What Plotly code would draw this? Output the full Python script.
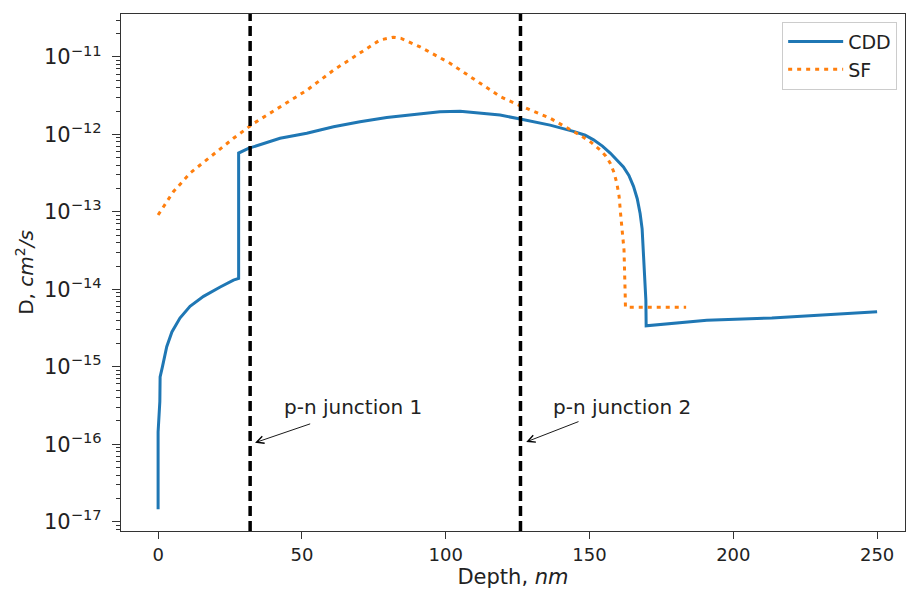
import plotly.graph_objects as go

# CDD profile (depth nm, D cm^2/s)
cdd_x = [0, 0, 0.6, 0.7, 1.5, 3.0, 4.8, 7.6, 11.1, 15.8, 21.6, 26.2, 28.0, 28.0, 31.4, 42.4, 51.7,
         61.0, 70.2, 79.5, 89.9, 98, 105, 113.1, 118.9, 125.9, 136.3, 144.4, 148.5, 151.4, 154.5,
         157.2, 159.6, 161.8, 163.7, 165.3, 166.6, 167.6, 168.3, 168.7, 169.3, 169.6, 169.7,
         176.3, 190.8, 213.4, 230.2, 250]
cdd_log = [-16.84, -15.84, -15.45, -15.13, -15.0, -14.74, -14.55, -14.37, -14.22, -14.09,
           -13.97, -13.88, -13.86, -12.24, -12.18, -12.05, -11.985, -11.90, -11.835, -11.78,
           -11.74, -11.706, -11.70, -11.73, -11.75, -11.80, -11.88, -11.96, -12.01, -12.07,
           -12.15, -12.24, -12.33, -12.42, -12.53, -12.67, -12.83, -13.02, -13.22, -13.49,
           -13.85, -14.14, -14.47, -14.45, -14.40, -14.37, -14.33, -14.29]
cdd_y = [10 ** v for v in cdd_log]

# SF profile
sf_x = [0, 5.3, 11.1, 18.1, 26.2, 33.1, 42.4, 51.7, 61.0, 70.2, 77.2, 81.8, 84.5, 91.1, 101.5,
        112, 118.9, 125.9, 136.3, 146.7, 150.5, 153.7, 155.7, 157.2, 158.5, 159.5, 160.3, 160.8,
        161.5, 162, 162.4, 162.5, 183.6]
sf_log = [-13.04, -12.74, -12.50, -12.29, -12.05, -11.86, -11.64, -11.43, -11.17, -10.95,
          -10.78, -10.745, -10.76, -10.87, -11.08, -11.34, -11.51, -11.63, -11.79, -12.01,
          -12.10, -12.20, -12.28, -12.37, -12.49, -12.63, -12.80, -13.02, -13.25, -13.49,
          -14.05, -14.23, -14.23]
sf_y = [10 ** v for v in sf_log]

junctions = [32, 126]
junction_labels = ["p-n junction 1", "p-n junction 2"]
# arrow tip (x, log10 y), tail (x, log10 y), text anchor (x, log10 y)
arrow_tips = [(33.7, -15.98), (128.0, -15.97)]
arrow_tails = [(53.4, -15.73), (146.7, -15.70)]
text_pos = [(43.0, -15.515), (136.6, -15.515)]

x_ticks = [0, 50, 100, 150, 200, 250]
y_major_exp = list(range(-17, -10))
y_major_ticks = [10.0 ** e for e in y_major_exp]
y_major_text = ["10<sup>\u2212%d</sup>" % (-e) for e in y_major_exp]
y_minor_ticks = [m * 10.0 ** d for d in range(-18, -9) for m in range(2, 10)]

FONT = "DejaVu Sans"
YRANGE = [-17.12, -10.445]

fig = go.Figure()
fig.add_trace(go.Scatter(x=cdd_x, y=cdd_y, mode="lines", name="CDD",
                         line=dict(color="#1f77b4", width=3)))
fig.add_trace(go.Scatter(x=sf_x, y=sf_y, mode="lines", name="SF",
                         line=dict(color="#ff7f0e", width=3, dash="4px,5px")))
# carrier for the major-tick overlay axis
fig.add_trace(go.Scatter(x=cdd_x, y=cdd_y, yaxis="y2", mode="lines",
                         showlegend=False, hoverinfo="skip",
                         line=dict(color="rgba(0,0,0,0)", width=0)))

for jx in junctions:
    fig.add_shape(type="line", xref="x", yref="paper", x0=jx, x1=jx, y0=0, y1=1,
                  line=dict(color="black", width=3.5, dash="10px,5px"))

for lab, tip, tail, tp in zip(junction_labels, arrow_tips, arrow_tails, text_pos):
    fig.add_annotation(x=tip[0], y=tip[1], ax=tail[0], ay=tail[1], xref="x", yref="y",
                       axref="x", ayref="y", text="", showarrow=True, arrowhead=5,
                       arrowsize=1.6, arrowwidth=0.9, arrowcolor="black")
    fig.add_annotation(x=tp[0], y=tp[1], xref="x", yref="y", text=lab, showarrow=False,
                       xanchor="left", yanchor="middle",
                       font=dict(family=FONT, size=20, color="#222"))

fig.update_layout(
    width=907, height=594,
    margin=dict(l=121, r=2, t=14, b=63),
    paper_bgcolor="white", plot_bgcolor="white",
    font=dict(family=FONT, size=18, color="#222"),
    legend=dict(x=0.99, y=0.985, xanchor="right", yanchor="top",
                bordercolor="#cccccc", borderwidth=1, bgcolor="white",
                font=dict(size=19), itemwidth=55, tracegroupgap=4),
    xaxis=dict(range=[-12.9, 259.7], tickvals=x_ticks, ticks="outside", ticklen=7,
               tickcolor="#333", showline=True, linecolor="#333", linewidth=1.3,
               mirror=True, showgrid=False, zeroline=False, tickfont=dict(size=18),
               title=dict(text="Depth, <i>nm</i>", standoff=4, font=dict(size=21))),
    yaxis=dict(type="log", range=YRANGE,
               tickvals=y_major_ticks + y_minor_ticks,
               ticktext=y_major_text + [""] * len(y_minor_ticks),
               ticks="outside", ticklen=4, tickcolor="#333", showline=True,
               linecolor="#333", linewidth=1.3, mirror=True, showgrid=False,
               zeroline=False, ticklabelstandoff=10, tickfont=dict(size=21),
               title=dict(text="D, <i>cm</i><sup>2</sup><i>/s</i>", standoff=4,
                          font=dict(size=20))),
    yaxis2=dict(type="log", range=YRANGE, overlaying="y", side="left", anchor="x",
                tickvals=y_major_ticks, showticklabels=False, ticks="outside",
                ticklen=8, tickcolor="#333", showgrid=False, zeroline=False,
                showline=False),
)

fig.write_html("out.html")
